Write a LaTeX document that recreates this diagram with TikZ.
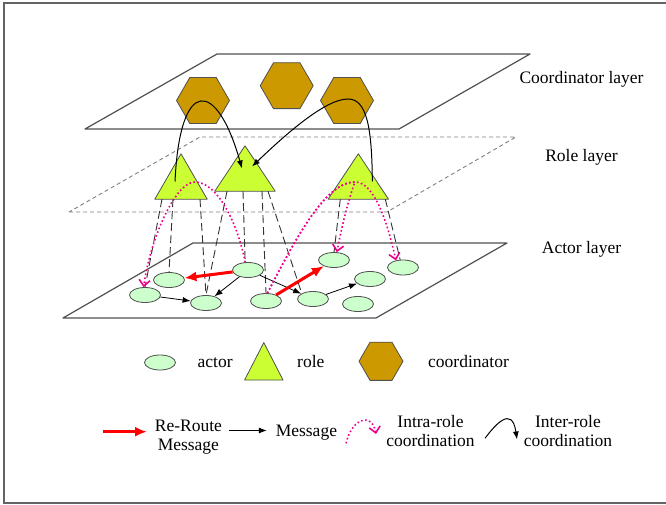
\documentclass[tikz,border=0pt]{standalone}
\usepackage{fontspec}
\setmainfont{Liberation Serif}
\usepackage{tikz}
\usetikzlibrary{shapes.geometric,arrows.meta,calc,positioning}
\definecolor{goldhex}{RGB}{204,153,0}
\definecolor{limerole}{RGB}{204,255,51}
\definecolor{mintactor}{RGB}{204,255,204}
\definecolor{edgegray}{RGB}{80,80,80}
\definecolor{framegray}{RGB}{100,100,100}
\tikzset{
	% Specifications for style of nodes:
	coordhex/.style = {regular polygon, regular polygon sides=6,
	minimum size=53pt, inner sep=0pt,
	fill=goldhex, draw=edgegray, line width=0.8pt},
	rolebox/.style = {rectangle, inner sep=0pt,
	minimum width=60pt, minimum height=45pt},
	rolefill/.style = {fill=limerole, draw=edgegray, line width=0.8pt, line join=round},
	actor/.style = {ellipse, minimum width=31pt, minimum height=15pt,
	inner sep=0pt, fill=mintactor, draw=edgegray, line width=0.8pt},
	txt/.style = {inner sep=0pt, align=center,
	font=\fontsize{17.5}{19}\selectfont},
	% Specifications for style of lines:
	plane/.style = {draw=edgegray, line width=1.2pt, line join=round},
	link/.style = {black!80, line width=0.9pt, dash pattern=on 8pt off 4pt},
	msg/.style = {-{Latex[length=8pt,width=6pt]}, line width=0.8pt},
	reroute/.style = {-{Latex[length=12pt,width=10pt]}, red, line width=3pt},
	intra/.style = {-{Straight Barb[length=6pt,width=11pt]}, magenta,
	line width=1.6pt, dash pattern=on 1.6pt off 2.4pt},
	inter/.style = {-{Latex[length=8pt,width=6pt]}, line width=1pt},
}

\begin{document}
\begin{tikzpicture}[x=1pt, y=-1pt]
	\useasboundingbox (0,0) rectangle (666,505);
	% outer frame
	\draw[framegray, line width=2pt] (666,3.5) -- (4,3.5) -- (4,503) -- (666,503);
	% layer planes
	\draw[plane] (85,129) -- (399,129) -- (530,54) -- (217,54) -- cycle;
	\draw[plane, draw=gray, line width=0.9pt, dash pattern=on 4pt off 3pt]
		(69,212) -- (387,212) -- (516,137) -- (200,137) -- cycle;
	\draw[plane] (63,318) -- (376,318) -- (507,243) -- (193,243) -- cycle;
	% layer names
	\node[txt, anchor=base] (lcoord) at (581.5,83.3) {Coordinator layer};
	\node[txt, anchor=base] (lrole) at (581.5,161.7) {Role layer};
	\node[txt, anchor=base] (lactor) at (581.5,253.3) {Actor layer};
	% coordinators
	\node[coordhex] (c1) at (203,100.5) {};
	\node[coordhex] (c2) at (286.7,85.7) {};
	\node[coordhex] (c3) at (347,100.5) {};
	% roles
	\node[rolebox, minimum width=52pt] (t1) at (181,176.5) {};
	\node[rolebox] (t2) at (245,168.5) {};
	\node[rolebox] (t3) at (358.3,176.5) {};
	% actors
	\node[actor] (a1) at (169,280) {};
	\node[actor] (a2) at (145,295) {};
	\node[actor] (a3) at (206,303) {};
	\node[actor] (a4) at (248,270) {};
	\node[actor] (a5) at (266,301) {};
	\node[actor] (a6) at (334,260) {};
	\node[actor] (a7) at (313,299) {};
	\node[actor] (a8) at (370,279) {};
	\node[actor] (a9) at (358,304) {};
	\node[actor] (a10) at (403,267.5) {};
	% legend
	\node[actor] (lgactor) at (160,362.5) {};
	\node[txt, right=21.5pt of lgactor] (lgactortxt) {actor};
	\node[rolebox, minimum width=38pt, minimum height=37pt] (lgrole) at (263.8,361.3) {};
	\node[txt, right=14pt of lgrole] (lgroletxt) {role};
	\node[coordhex, minimum size=44pt] (lgcoord) at (381,361.3) {};
	\node[txt, right=24.5pt of lgcoord] (lgcoordtxt) {coordinator};
	\coordinate (rr0) at (102.5,431.7);
	\coordinate (rr1) at (147,431.7);
	\node[txt] (rrtxt) at (188.4,437) {Re-Route\\Message};
	\coordinate (ms0) at (229.3,430.5);
	\coordinate (ms1) at (266.8,430.5);
	\node[txt, anchor=base] (mstxt) at (306.4,436.7) {Message};
	\coordinate (ia0) at (346,443.3);
	\coordinate (ia1) at (376,434);
	\node[txt] (iatxt) at (430.5,431) {Intra-role\\coordination};
	\coordinate (ie0) at (485,438.3);
	\coordinate (ie1) at (517,439.5);
	\node[txt] (ietxt) at (568,431) {Inter-role\\coordination};
	% triangles drawn over the role boxes
	\foreach \r in {t1,t2,t3,lgrole}
		\draw[rolefill] (\r.south west) -- (\r.north) -- (\r.south east) -- cycle;
	% links from roles down to actors
	\draw[link] ([xshift=-19pt]t1.south) -- (a2.north);
	\draw[link] ([xshift=-8pt]t1.south) -- (a1.north);
	\draw[link] ([xshift=19pt]t1.south) -- (a3.north);
	\draw[link] ([xshift=-18pt]t2.south) -- (a3.north);
	\draw[link] ([xshift=-2pt]t2.south) -- (a4.110);
	\draw[link] ([xshift=17pt]t2.south) -- (a5.north);
	\draw[link] ([xshift=23pt]t2.south) -- (a7.north west);
	\draw[link] ([xshift=-18pt]t3.south) -- (a6.north);
	\draw[link] ([xshift=27pt]t3.south) -- (a10.110);
	% messages between actors
	\draw[msg] (a2) -- (a3);
	\draw[msg] (a4) -- (a3);
	\draw[msg] (a4) -- (a7);
	\draw[msg] (a7) -- (a8);
	\draw[reroute] (a4) -- (a1);
	\draw[reroute] (a5) -- (a6);
	% intra-role coordination
	\draw[intra] (a4.110) .. controls (238,225) and (218,182) .. (195,182)
		.. controls (175,182) and (150,240) .. (a2.100);
	\draw[intra] (a5.80) .. controls (295,240) and (325,182) .. (355,182)
		.. controls (375,182) and (388,225) .. (a10.135);
	\draw[intra] (a5.80) .. controls (295,240) and (325,182) .. (355,182)
		.. controls (350,195) and (343,220) .. (a6.70);
	% inter-role coordination
	\draw[inter] ([shift={(-6pt,-5pt)}]t1.center) .. controls (180,75) and (217,80)
		.. ([xshift=-3pt]t2.center);
	\draw[inter] ([shift={(14pt,-5pt)}]t3.center) .. controls (372,125) and (366,99) .. (348,99)
		.. controls (325,99) and (285,135) .. ([shift={(7pt,2pt)}]t2.center);
	% legend arrows
	\draw[reroute] (rr0) -- (rr1);
	\draw[msg] (ms0) -- (ms1);
	\draw[intra] (ia0) .. controls (352,418) and (372,412) .. (ia1);
	\draw[inter] (ie0) .. controls (495,425) and (512,405) .. (ie1);
\end{tikzpicture}
\end{document}
